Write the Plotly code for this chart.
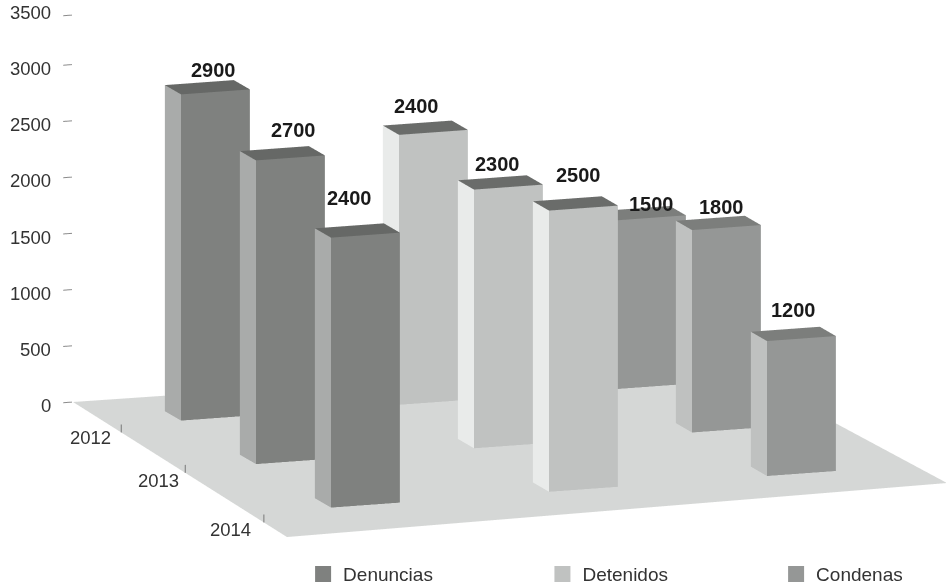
import numpy as np
import plotly.graph_objects as go

series = ["Denuncias", "Detenidos", "Condenas"]
years = [2012, 2013, 2014]
denuncias = [2900, 2700, 2400]
detenidos = [2400, 2300, 2500]
condenas = [1500, 1800, 1200]
z_ticks = [0, 500, 1000, 1500, 2000, 2500, 3000, 3500]
z_tick_marks = [0, 500, 1000, 1500, 2000, 2500, 3000, 3440]
year_tick_pos = [2012.26, 2013.18, 2014.31]

front = ["#7f817f", "#c0c2c1", "#959796"]
side = ["#a9abaa", "#e9ebea", "#bfc1c0"]
top = ["#666866", "#6a6c6a", "#7c7e7c"]
legend_x = [0.3204, 0.5734, 0.8204]
floor_col = "#d5d7d6"
floor_x = [-0.467, 2.456, 2.527, -0.544]
floor_y = [-1.434, -1.384, 1.516, 1.642]   # years from 2013
FONT = "Liberation Sans"
label_shift_x = [[6, 11, -8], [-9, -3, 3], [8, 3, 0]]
label_shift_y = [[17, 23, 32], [22, 18, 28], [9, 16, 24]]
year_shift_x = [-8, -4, -11]
year_shift_y = [-5, -8, -7]

HX, HY = 0.158, 0.107    # half width / depth of a bar, in category / year units
x_range = [-0.6, 2.6]
y_range = [-2014.7, -2011.5]   # y runs away from the viewer: negated year
z_range = [0, 3600]

# orthographic camera solved from pixel directions measured on the picture
PX_X = np.array([218.0, 15.8])     # per category, (right, up)
PX_Y = np.array([-75.0, 43.5])     # per unit of negated year
PX_Z = np.array([0.0, 0.1125])     # per unit of value
ORIGIN = np.array([282.4, 585 - 457.0])  # category 0, year 2013, value 0
S = 292.5
ux, uy, uz = x_range[1] - x_range[0], y_range[1] - y_range[0], z_range[1] - z_range[0]
M = np.column_stack([PX_X * ux, PX_Y * uy, PX_Z * uz])
A = np.array([M[0] ** 2, M[1] ** 2, M[0] * M[1]])
wt = np.linalg.solve(A, np.array([1.0, 1.0, 0.0]))
sa = 1 / np.sqrt(wt)
r1, r2 = M[0] / sa, M[1] / sa
r3 = np.cross(r1, r2)
aspect = dict(x=float(sa[0] / S), y=float(sa[1] / S), z=float(sa[2] / S))
box_c = (ORIGIN + PX_X * (x_range[0] + x_range[1]) / 2
         + PX_Y * ((y_range[0] + y_range[1]) / 2 + 2013) + PX_Z * uz / 2)
du, dv = box_c - np.array([473, 292.5])
C = -(du / S) * r1 - (dv / S) * r2
E = C + 6.0 * r3


def box(xc, yc, h, i_series):
    xs, ys, zs, I, J, K, col = [], [], [], [], [], [], []
    x0, x1 = xc - HX, xc + HX
    y0, y1 = -yc - HY, -yc + HY   # y0 is the viewer side
    faces = [
        ([(x0, y0, 0), (x1, y0, 0), (x1, y0, h), (x0, y0, h)], front[i_series]),
        ([(x0, y0, 0), (x0, y1, 0), (x0, y1, h), (x0, y0, h)], side[i_series]),
        ([(x0, y0, h), (x1, y0, h), (x1, y1, h), (x0, y1, h)], top[i_series]),
    ]
    for pts, c in faces:
        n = len(xs)
        for p in pts:
            xs.append(p[0]); ys.append(p[1]); zs.append(p[2])
        I += [n, n]; J += [n + 1, n + 2]; K += [n + 2, n + 3]
        col += [c, c]
    return xs, ys, zs, I, J, K, col


LIGHT = dict(ambient=1, diffuse=0, specular=0, fresnel=0, roughness=1)
fig = go.Figure()
fig.add_trace(go.Mesh3d(x=floor_x, y=[-(2013 + v) for v in floor_y], z=[0, 0, 0, 0],
                        i=[0, 0], j=[1, 2], k=[2, 3], color=floor_col, flatshading=True,
                        lighting=LIGHT, hoverinfo="skip", showlegend=False))

annots = []
legends = {}
for si, vals in enumerate([denuncias, detenidos, condenas]):
    X, Y, Z, I, J, K, C_ = [], [], [], [], [], [], []
    for yi, v in enumerate(vals):
        xs, ys, zs, i, j, k, col = box(si, years[yi], v, si)
        n = len(X)
        X += xs; Y += ys; Z += zs
        I += [a + n for a in i]; J += [a + n for a in j]; K += [a + n for a in k]
        C_ += col
        annots.append(dict(x=si, y=-years[yi], z=v, text=str(v), showarrow=False,
                           xshift=label_shift_x[si][yi], yshift=label_shift_y[si][yi],
                           font=dict(family=FONT, size=20, color="#1a1a1a", weight="bold")))
    fig.add_trace(go.Mesh3d(x=X, y=Y, z=Z, i=I, j=J, k=K, facecolor=C_, flatshading=True,
                            lighting=LIGHT, hoverinfo="skip", showlegend=False))
    key = "legend" if si == 0 else f"legend{si + 1}"
    fig.add_trace(go.Scatter3d(x=[None], y=[None], z=[None], mode="markers", name=series[si], legend=key,
                               marker=dict(symbol="square", size=16, color=front[si]), showlegend=True))
    legends[key] = dict(x=legend_x[si], xanchor="left", y=-0.014, yanchor="bottom", itemclick=False,
                        font=dict(family=FONT, size=19, color="#333333"), bgcolor="rgba(0,0,0,0)")

# value ticks, at the back-left corner of the floor
xc0, yc0 = floor_x[0], -(2013 + floor_y[0])
for t, zt in zip(z_ticks, z_tick_marks):
    fig.add_trace(go.Scatter3d(x=[xc0 - 0.045, xc0 - 0.005], y=[yc0, yc0], z=[zt, zt], mode="lines",
                               line=dict(color="#8a8a8a", width=2), hoverinfo="skip", showlegend=False))
    annots.append(dict(x=xc0, y=yc0, z=t, text=str(t), showarrow=False, xanchor="right", xshift=-20, yshift=-4,
                       font=dict(family=FONT, size=18.5, color="#333333")))
# year ticks, along the left edge of the floor
for n, (yr, pos) in enumerate(zip(years, year_tick_pos)):
    tt = pos - 2013
    xe = floor_x[0] + (floor_x[3] - floor_x[0]) * (tt - floor_y[0]) / (floor_y[3] - floor_y[0])
    fig.add_trace(go.Scatter3d(x=[xe, xe], y=[-pos, -pos], z=[0, 71], mode="lines",
                               line=dict(color="#777777", width=2), hoverinfo="skip", showlegend=False))
    annots.append(dict(x=xe, y=-pos, z=0, text=str(yr), showarrow=False, xanchor="right",
                       xshift=year_shift_x[n], yshift=year_shift_y[n],
                       font=dict(family=FONT, size=18.5, color="#333333")))

hidden = dict(visible=False, showgrid=False, zeroline=False, showticklabels=False,
              showbackground=False, showspikes=False, showline=False, title="")
fig.update_layout(
    width=946, height=585, margin=dict(l=0, r=0, t=0, b=0, autoexpand=False), paper_bgcolor="white",
    scene=dict(
        domain=dict(x=[0, 1], y=[0, 1]),
        xaxis=dict(hidden, range=x_range),
        yaxis=dict(hidden, range=y_range),
        zaxis=dict(hidden, range=z_range),
        aspectmode="manual", aspectratio=aspect,
        camera=dict(eye=dict(x=float(E[0]), y=float(E[1]), z=float(E[2])),
                    center=dict(x=float(C[0]), y=float(C[1]), z=float(C[2])),
                    up=dict(x=0, y=0, z=1), projection=dict(type="orthographic")),
        annotations=annots,
    ),
    showlegend=True,
    **legends,
)
fig.write_html("out.html", post_script="document.body.style.margin='0';",
               config={"displayModeBar": False})
